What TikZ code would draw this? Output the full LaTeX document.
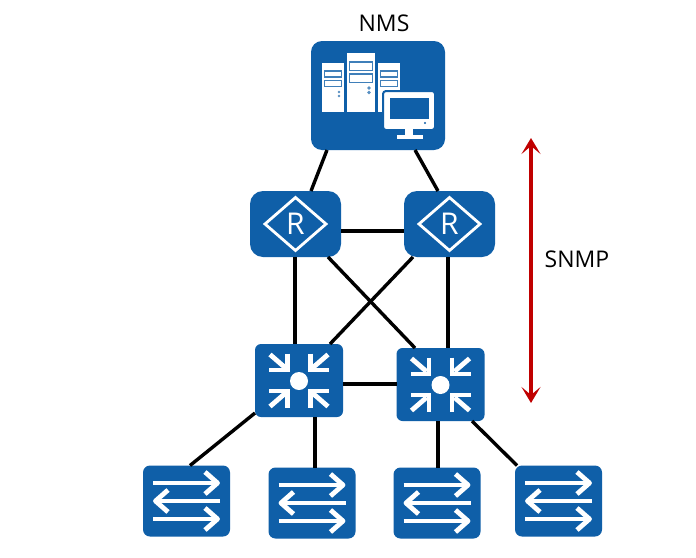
\documentclass[tikz,border=0pt]{standalone}
\usepackage{fontspec}
\setmainfont{Open Sans}
\usetikzlibrary{arrows.meta}
\definecolor{hwblue}{HTML}{0F5FA8}
\definecolor{hwred}{HTML}{C00000}
\tikzset{
  x=1pt,y=-1pt,
  devbox/.style={fill=hwblue,draw=none,inner sep=0pt,outer sep=0pt,rectangle},
  nmsbox/.style={devbox,minimum width=134pt,minimum height=109pt,rounded corners=11pt},
  routerbox/.style={devbox,minimum width=91pt,minimum height=66pt,rounded corners=13pt},
  corebox/.style={devbox,minimum width=88pt,minimum height=73pt,rounded corners=6pt},
  switchbox/.style={devbox,minimum width=87pt,minimum height=71pt,rounded corners=7pt},
  link/.style={draw=black,line width=3.4pt},
  icon/.style={draw=white,line width=4.8pt,fill=none},
  label/.style={font=\fontsize{23}{27}\selectfont,text=black,inner sep=0pt},
  snmparrow/.style={draw=hwred,line width=3.4pt,{Stealth[length=16pt,width=19pt,inset=8pt]}-{Stealth[length=16pt,width=19pt,inset=8pt]}}
}
\newcommand\swicon[1]{\begin{scope}[shift={(#1)}]
  \draw[icon] (-33.5,-18) -- (30,-18); \draw[icon,line join=round] (18.5,-29) -- (31,-18) -- (18.5,-7);
  \draw[icon] (33.5,0) -- (-30,0); \draw[icon,line join=round] (-18.5,-11) -- (-31,0) -- (-18.5,11);
  \draw[icon] (-33.5,18) -- (30,18); \draw[icon,line join=round] (18.5,7) -- (31,18) -- (18.5,29);
\end{scope}}
\newcommand\coreicon[1]{\begin{scope}[shift={(#1)}]
  \fill[white] (0,0.5) circle (9);
  \foreach \sx/\sy in {-1/-1,1/-1,-1/1,1/1}{
    \draw[icon,line join=miter] (\sx*11.5,\sy*27) -- (\sx*11.5,\sy*10.5) -- (\sx*30,\sy*10.5);
    \draw[icon] (\sx*14,\sy*13) -- (\sx*29,\sy*26);
  }
\end{scope}}
\newcommand\routericon[1]{\begin{scope}[shift={(#1)}]
  \draw[draw=white,line width=2.8pt] (-30.5,0) -- (0,-26.5) -- (30.5,0) -- (0,26.5) -- cycle;
  \node[font=\fontsize{30}{30}\selectfont,text=white,inner sep=0pt] at (0,0) {R};
\end{scope}}
\newcommand\tower[6]{%
  \fill[white] (#1,#3) rectangle (#2,#4);
  \draw[hwblue!80,line width=1.1pt,fill=white] (#1+2.5,#5) rectangle (#2-2.5,#5+#6);
  \draw[hwblue!80,line width=1.1pt,fill=white] (#1+2.5,#5+#6+3.5) rectangle (#2-2.5,#5+2*#6+3.5);
}
\begin{document}
\begin{tikzpicture}
\useasboundingbox (0,0) rectangle (696,557);
\fill[white] (0,0) rectangle (696,557);
% devices
\node[nmsbox] (nms) at (378,95.5) {};
\node[routerbox] (r1) at (295.5,224) {};
\node[routerbox] (r2) at (449.5,224) {};
\node[corebox] (c1) at (299,380.5) {};
\node[corebox] (c2) at (440.5,384.5) {};
\node[switchbox] (s1) at (186.5,501) {};
\node[switchbox] (s2) at (312,503) {};
\node[switchbox] (s3) at (437,503) {};
\node[switchbox] (s4) at (558.5,501) {};
% NMS icon
\tower{322}{344}{63}{112}{71}{6}
\fill[hwblue!70] (339,92) circle (1.4) (339,96) circle (1.4);
\tower{378}{400}{63}{112}{71}{6}
\tower{347}{375}{53}{112}{62}{8.5}
\fill[hwblue!70] (369,88) circle (1.8) (369,92.5) circle (1.8);
\draw[hwblue,line width=2pt,fill=white,rounded corners=3pt] (383,91) rectangle (435,130);
\fill[white,rounded corners=2pt] (385,93) rectangle (433,128);
\fill[hwblue] (389.5,98) rectangle (429,119);
\fill[hwblue] (425,123) circle (1.2);
\fill[white] (405,128) rectangle (413,135);
\fill[white] (397,135) rectangle (423,138.5);
% device icons
\routericon{r1}\routericon{r2}
\coreicon{c1}\coreicon{c2}
\swicon{s1}\swicon{s2}\swicon{s3}\swicon{s4}
% connectors
\draw[link] ([xshift=-51pt]nms.south) -- ([xshift=15.5pt]r1.north);
\draw[link] ([xshift=37pt]nms.south) -- ([xshift=-11.5pt]r2.north);
\draw[link] ([yshift=-7pt]r1.east) -- ([yshift=-7pt]r2.west);
\draw[link] ([xshift=-0.5pt]r1.south) -- ([xshift=-4pt]c1.north);
\draw[link] ([xshift=-1.5pt]r2.south) -- ([xshift=7.5pt]c2.north);
\draw[link] ([xshift=32.5pt]r1.south) -- ([xshift=-25.5pt]c2.north);
\draw[link] ([xshift=-36.5pt]r2.south) -- ([xshift=31pt]c1.north);
\draw[link] ([yshift=-3.5pt]c1.east) -- ([yshift=0.5pt]c2.west);
\draw[link] ([yshift=4pt]c1.south west) -- ([xshift=3.5pt]s1.north);
\draw[link] ([xshift=16pt]c1.south) -- ([xshift=3pt]s2.north);
\draw[link] ([xshift=-2.5pt]c2.south) -- ([xshift=1pt]s3.north);
\draw[link] ([xshift=31.5pt]c2.south) -- ([xshift=-41.5pt]s4.north);
% labels
\node[label] (nmslabel) at (384,23) {NMS};
\node[label] (snmplabel) at (577,259) {SNMP};
\coordinate (snmptop) at (531,138);
\coordinate (snmpbot) at (531,403);
\draw[snmparrow] (snmptop) -- (snmpbot);
\end{tikzpicture}
\end{document}
